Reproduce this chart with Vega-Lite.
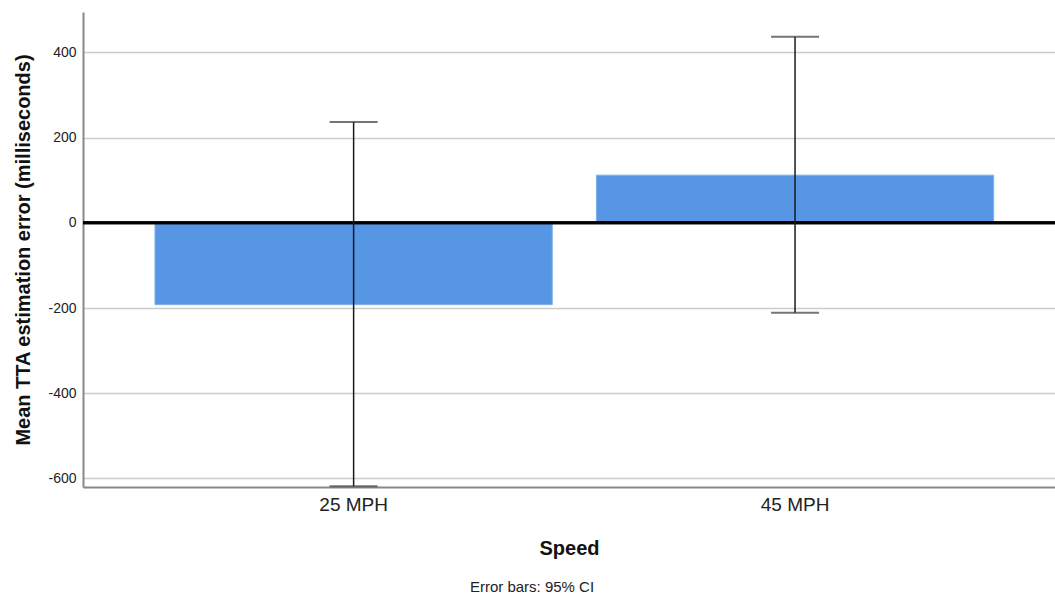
{
  "$schema": "https://vega.github.io/schema/vega-lite/v6.json",
  "width": 972,
  "height": 475,
  "autosize": {"type": "none"},
  "padding": {"left": 83, "top": 12, "right": 0, "bottom": 112},
  "background": "white",
  "title": {
    "text": "Error bars: 95% CI",
    "orient": "bottom",
    "anchor": "middle",
    "font": "Liberation Sans",
    "fontSize": 15,
    "fontWeight": "normal",
    "color": "#222222",
    "dx": -37,
    "offset": 22
  },
  "config": {
    "view": {"stroke": null},
    "font": "Liberation Sans"
  },
  "data": {
    "values": [
      {"speed": "25 MPH", "mean": -192, "lo": -618, "hi": 237},
      {"speed": "45 MPH", "mean": 112, "lo": -211, "hi": 437}
    ]
  },
  "layer": [
    {
      "mark": {"type": "bar", "color": "#5696e5", "stroke": "#7fb0ec", "strokeWidth": 1},
      "encoding": {
        "x": {
          "field": "speed",
          "type": "nominal",
          "sort": null,
          "scale": {"paddingInner": 0.1, "paddingOuter": 0.151, "align": 0.54},
          "axis": {
            "title": "Speed",
            "labelAngle": 0,
            "labelFontSize": 19,
            "labelColor": "#222222",
            "labelPadding": 8,
            "ticks": false,
            "domainColor": "#888888",
            "domainWidth": 2,
            "titleFontSize": 20,
            "titleFontWeight": "bold",
            "titleColor": "#111111",
            "titlePadding": 24
          }
        },
        "y": {
          "field": "mean",
          "type": "quantitative",
          "scale": {"domain": [-620, 495], "nice": false, "zero": false},
          "axis": {
            "title": "Mean TTA estimation error (milliseconds)",
            "values": [-600, -400, -200, 0, 200, 400],
            "labelExpr": "'' + datum.value",
            "labelFontSize": 14,
            "labelColor": "#222222",
            "labelPadding": 7,
            "ticks": false,
            "grid": true,
            "gridColor": "#cccccc",
            "gridWidth": 1.5,
            "domainColor": "#888888",
            "domainWidth": 2,
            "titleFontSize": 20,
            "titleFontWeight": "bold",
            "titleColor": "#111111",
            "titlePadding": 14
          }
        }
      }
    },
    {
      "mark": {"type": "rule", "color": "#000000", "strokeWidth": 3},
      "encoding": {"y": {"datum": 0, "type": "quantitative"}}
    },
    {
      "mark": {"type": "rule", "color": "#1a1a1a", "strokeWidth": 1.5},
      "encoding": {
        "x": {"field": "speed", "type": "nominal", "sort": null},
        "y": {"field": "lo", "type": "quantitative"},
        "y2": {"field": "hi"}
      }
    },
    {
      "mark": {"type": "tick", "color": "#3a3a3a", "thickness": 2, "size": 48},
      "encoding": {
        "x": {"field": "speed", "type": "nominal", "sort": null},
        "y": {"field": "lo", "type": "quantitative"}
      }
    },
    {
      "mark": {"type": "tick", "color": "#3a3a3a", "thickness": 2, "size": 48},
      "encoding": {
        "x": {"field": "speed", "type": "nominal", "sort": null},
        "y": {"field": "hi", "type": "quantitative"}
      }
    }
  ]
}
